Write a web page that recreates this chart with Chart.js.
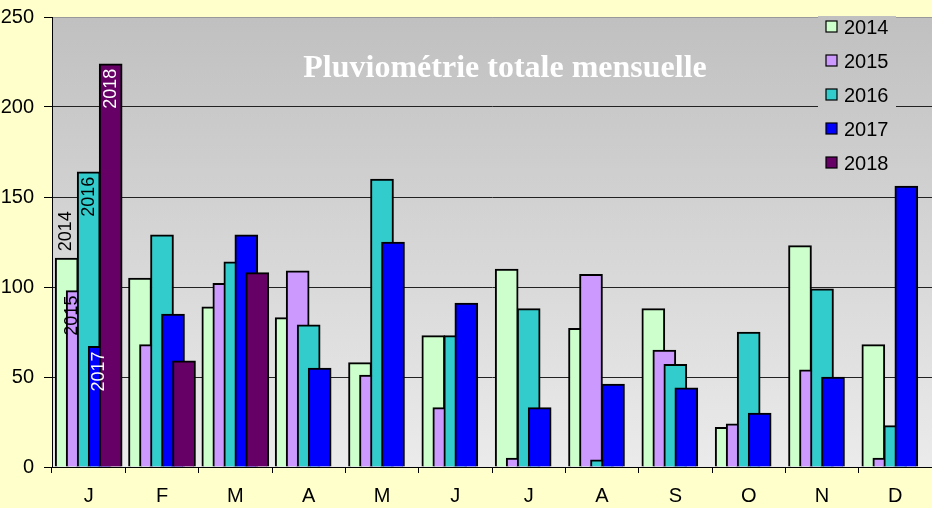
<!DOCTYPE html>
<html>
<head>
<meta charset="utf-8">
<script src="https://cdn.jsdelivr.net/npm/chart.js@4"></script>
<style>
  html, body { margin: 0; padding: 0; background: #FFFFCC; }
  #wrap { width: 932px; height: 508px; }
</style>
</head>
<body>
<div id="wrap"><canvas id="rainChart" width="932" height="508"></canvas></div>
<script>
const months = ['J', 'F', 'M', 'A', 'M', 'J', 'J', 'A', 'S', 'O', 'N', 'D'];
const years = ['2014', '2015', '2016', '2017', '2018'];

const rain2014 = [116, 105, 89, 83, 58, 73, 110, 77, 88, 22, 123, 68];
const rain2015 = [98, 68, 102, 109, 51, 33, 5, 107, 65, 24, 54, 5];
const rain2016 = [164, 129, 114, 79, 160, 73, 88, 4, 57, 75, 99, 23];
const rain2017 = [67, 85, 129, 55, 125, 91, 33, 46, 44, 30, 50, 156];
const rain2018 = [224, 59, 108, null, null, null, null, null, null, null, null, null];

const yTicks = [0, 50, 100, 150, 200, 250];
const title = 'Pluviométrie totale mensuelle';

const colors = ['#CCFFCC', '#CC99FF', '#33CCCC', '#0000FF', '#660066'];
const series = [rain2014, rain2015, rain2016, rain2017, rain2018];

// Excel-style overlapping bars: each year shifted inside its month slot
const shift = 0.15;

const datasets = series.map((values, s) => ({
  label: years[s],
  data: values.map((v, i) => ({ x: i + (s - 2) * shift, y: v })),
  backgroundColor: colors[s],
  borderColor: '#000',
  borderWidth: 2,
  borderSkipped: 'bottom',
  barThickness: 23,
  grouped: false,
  xAxisID: 'xb',
  order: series.length - s
}));

// january labels: series name written vertically on each bar
const labelInside = [false, true, true, true, true];
const labelColor = ['#000', '#000', '#000', '#fff', '#fff'];
const labelDx = [-1, -6, 0, -1, 0];

const backdrop = {
  id: 'backdrop',
  beforeDraw(chart) {
    const { ctx, chartArea: a } = chart;
    ctx.save();
    ctx.fillStyle = '#FFFFCC';
    ctx.fillRect(0, 0, chart.width, chart.height);
    const g = ctx.createLinearGradient(0, a.top, 0, a.bottom);
    g.addColorStop(0, '#C0C0C0');
    g.addColorStop(1, '#EBEBEB');
    chart.$plotFill = g;
    ctx.fillStyle = g;
    ctx.fillRect(a.left, a.top, a.right - a.left, a.bottom - a.top);
    ctx.restore();
  },
  beforeDatasetsDraw(chart) {
    const { ctx, chartArea: a } = chart;
    ctx.save();
    // title inside the plot
    ctx.fillStyle = '#fff';
    ctx.font = 'bold 32px "Liberation Serif", serif';
    ctx.textAlign = 'center';
    ctx.textBaseline = 'alphabetic';
    ctx.fillText(title, 505, 77);
    // legend box
    ctx.fillStyle = chart.$plotFill;
    ctx.fillRect(818, a.top - 1, 78, 168);
    ctx.font = '20px "Liberation Sans", Arial, sans-serif';
    ctx.textAlign = 'left';
    ctx.textBaseline = 'middle';
    chart.data.datasets.forEach((ds, s) => {
      const cy = 27 + s * 34;
      ctx.fillStyle = ds.backgroundColor;
      ctx.fillRect(826, cy - 6, 11, 11);
      ctx.strokeStyle = '#000';
      ctx.lineWidth = 1.2;
      ctx.strokeRect(826, cy - 6, 11, 11);
      ctx.fillStyle = '#000';
      ctx.fillText(ds.label, 844, cy + 1);
    });
    ctx.restore();
  },
  afterDatasetsDraw(chart) {
    const { ctx } = chart;
    ctx.save();
    ctx.font = '18px "Liberation Sans", Arial, sans-serif';
    ctx.textBaseline = 'middle';
    chart.data.datasets.forEach((ds, s) => {
      const bar = chart.getDatasetMeta(s).data[0];
      if (!bar) return;
      ctx.save();
      ctx.translate(bar.x + labelDx[s], bar.y);
      ctx.rotate(-Math.PI / 2);
      ctx.fillStyle = labelColor[s];
      if (labelInside[s]) {
        ctx.textAlign = 'right';
        ctx.fillText(ds.label, -5, 0);
      } else {
        ctx.textAlign = 'left';
        ctx.fillText(ds.label, 7, 0);
      }
      ctx.restore();
    });
    ctx.restore();
  }
};

const config = {
  type: 'bar',
  data: {
    labels: months,
    datasets: datasets
  },
  options: {
    responsive: false,
    animation: false,
    devicePixelRatio: 1,
    layout: { padding: { top: 17, right: 0, left: 0, bottom: 0 } },
    plugins: {
      legend: { display: false },
      tooltip: { enabled: false },
      title: { display: false }
    },
    scales: {
      x: {
        type: 'category',
        offset: true,
        grid: { offset: true, drawOnChartArea: false, tickLength: 6, color: '#000' },
        border: { color: '#000', width: 1 },
        ticks: {
          color: '#000',
          font: { family: '"Liberation Sans", Arial, sans-serif', size: 20 },
          padding: 11,
          maxRotation: 0,
          autoSkip: false
        },
        afterFit: (s) => { s.height = 41; s.paddingLeft = 0; s.paddingRight = 0; }
      },
      xb: {
        type: 'linear',
        display: false,
        offset: false,
        bounds: 'ticks',
        min: -0.5,
        max: 11.5
      },
      y: {
        min: yTicks[0],
        max: yTicks[yTicks.length - 1],
        afterBuildTicks: (s) => { s.ticks = yTicks.map(v => ({ value: v })); },
        ticks: {
          color: '#000',
          font: { family: '"Liberation Sans", Arial, sans-serif', size: 20 },
          padding: 10
        },
        grid: {
          color: (c) => c.tick && c.tick.value === 250 ? '#999' : '#222',
          tickColor: '#000',
          tickLength: 8,
          lineWidth: 1
        },
        border: { color: '#000', width: 1 },
        afterFit: (s) => { s.width = 52; s.paddingTop = 0; s.paddingBottom = 0; }
      }
    }
  },
  plugins: [backdrop]
};

var rainChart = new Chart(document.getElementById('rainChart').getContext('2d'), config);
</script>
</body>
</html>
